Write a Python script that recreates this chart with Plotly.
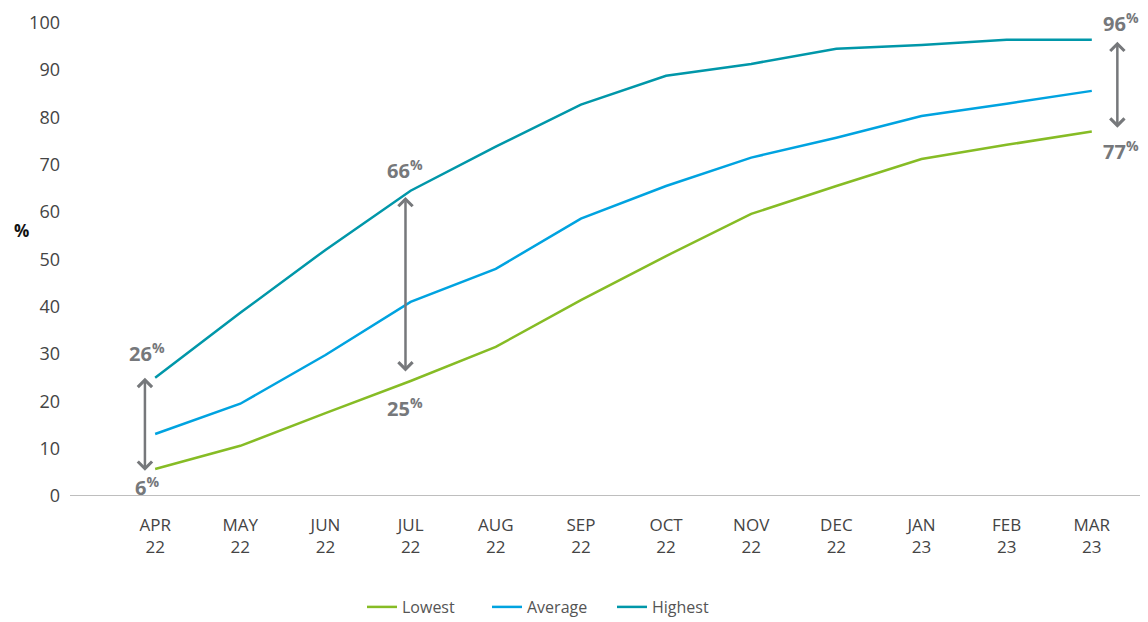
import plotly.graph_objects as go

months = ["APR<br>22", "MAY<br>22", "JUN<br>22", "JUL<br>22", "AUG<br>22", "SEP<br>22",
          "OCT<br>22", "NOV<br>22", "DEC<br>22", "JAN<br>23", "FEB<br>23", "MAR<br>23"]
lowest = [5.7, 10.6, 17.5, 24.3, 31.5, 41.4, 50.7, 59.6, 65.5, 71.2, 74.2, 77.0]
average = [13.1, 19.5, 29.8, 41.0, 48.0, 58.6, 65.5, 71.5, 75.7, 80.3, 82.9, 85.6]
highest = [25.0, 38.7, 52.0, 64.5, 73.8, 82.7, 88.8, 91.3, 94.5, 95.3, 96.4, 96.4]

# range arrows: top value, bottom value, labels
range_top = [25.0, 63.2, 96.0]
range_bottom = [5.0, 26.0, 77.5]
range_top_labels = ["26", "66", "96"]
range_bottom_labels = ["6", "25", "77"]

# styling: arrow x positions (category units) and label pixel offsets
arrow_x = [-0.12, 2.94, 11.3]
top_shift = [25, 27, 19]
bottom_shift = [-14, -35, -21]
label_xshift = [2, 0, 4]

x = list(range(len(months)))
GREY = "#76787b"

fig = go.Figure()
series = [("Lowest", lowest, "#86bc25"), ("Average", average, "#00a3e0"), ("Highest", highest, "#0097a9")]
for name, vals, col in series:
    fig.add_trace(go.Scatter(x=x, y=vals, mode="lines", name=name,
                             line=dict(color=col, width=2.5)))

for i in range(len(range_top)):
    xp = arrow_x[i]
    fig.add_annotation(x=xp, y=range_top[i], ax=xp, ay=range_bottom[i], xref="x", yref="y",
                       axref="x", ayref="y", text="", showarrow=True, arrowhead=4, startarrowhead=4,
                       arrowside="end+start", arrowwidth=2.5, arrowsize=1.1, startarrowsize=1.1,
                       arrowcolor=GREY)
    fig.add_annotation(x=xp, y=range_top[i], yshift=top_shift[i], xshift=label_xshift[i],
                       xref="x", yref="y", showarrow=False,
                       text="<b>" + range_top_labels[i] + "<sup>%</sup></b>",
                       font=dict(family="Open Sans", size=20, color=GREY))
    fig.add_annotation(x=xp, y=range_bottom[i], yshift=bottom_shift[i], xshift=label_xshift[i],
                       xref="x", yref="y", showarrow=False,
                       text="<b>" + range_bottom_labels[i] + "<sup>%</sup></b>",
                       font=dict(family="Open Sans", size=20, color=GREY))

# page body has an 8px default margin; size the figure to fit the 1148x622 window
OFF = 8
W, H = 1148 - OFF, 622 - OFF
L = 70 - OFF
T = 18 - OFF
PB = 496 - OFF  # plot bottom in figure pixels
fig.add_shape(type="line", xref="paper", yref="y", x0=0, x1=1, y0=0, y1=0,
              line=dict(color="#a8a8a8", width=1.5), layer="below")

fig.add_annotation(xref="paper", yref="paper", x=(12 - OFF - L) / (W - L),
                   y=(PB - (230 - OFF)) / (PB - T),
                   text="<b>%</b>", showarrow=False, font=dict(family="Open Sans", size=17, color="#111"))

fig.update_layout(
    width=W, height=H,
    margin=dict(l=L, r=0, t=T, b=H - PB, autoexpand=False),
    paper_bgcolor="white", plot_bgcolor="white",
    font=dict(family="Open Sans", color="#444"),
    xaxis=dict(tickvals=x, ticktext=months, range=[-1.0, 11.66], showgrid=False,
               zeroline=False, showline=False, ticks="", ticklabelstandoff=17,
               tickfont=dict(size=17, color="#444")),
    yaxis=dict(range=[0, 101], tickvals=list(range(0, 101, 10)), showgrid=False,
               zeroline=False, showline=False, ticks="", ticklabelstandoff=9,
               tickfont=dict(size=18, color="#444")),
    legend=dict(orientation="h", x=(362 - OFF - L) / (W - L), xanchor="left",
                y=1 - (607 - OFF) / H, yanchor="middle", yref="container", entrywidth=80,
                font=dict(size=16, color="#555")),
    showlegend=True,
)

fig.write_html("out.html")
